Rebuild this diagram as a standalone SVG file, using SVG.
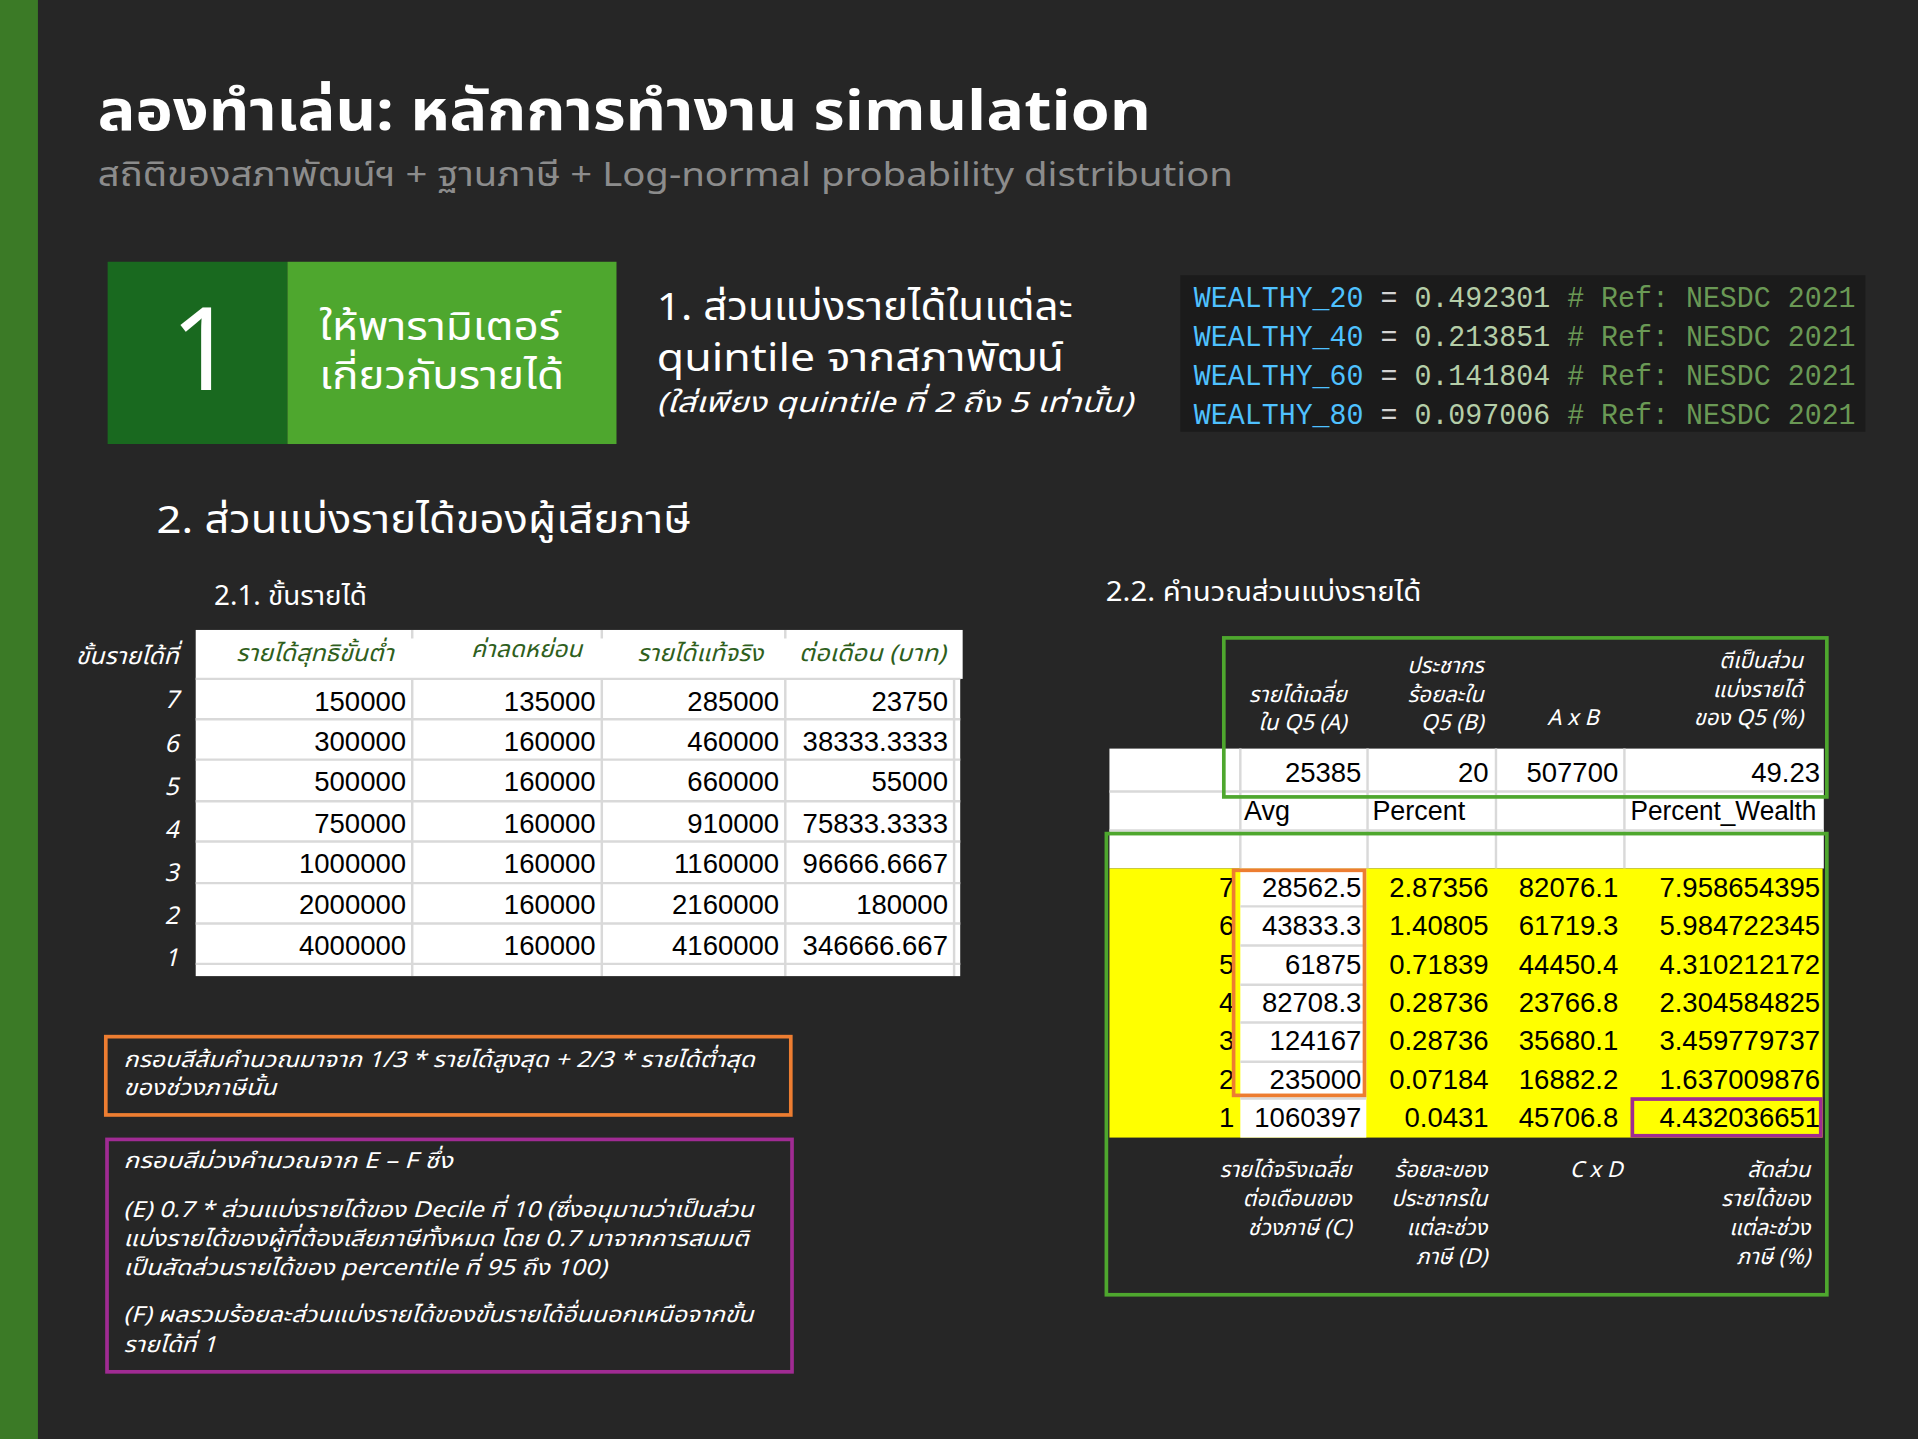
<svg xmlns="http://www.w3.org/2000/svg" width="1918" height="1439" viewBox="0 0 1918 1439">
<style>
.th{font-family:"Noto Sans Thai","Noto Sans Thai UI","Noto Sans","DejaVu Sans",sans-serif;}
.w{fill:#ffffff;}
.it{font-style:italic;}
.num{font-family:"Liberation Sans",Arial,sans-serif;font-size:22.5px;fill:#000;text-anchor:end;}
.lab{font-family:"Liberation Sans",Arial,sans-serif;font-size:22px;fill:#000;}
.code{font-family:"Liberation Mono","DejaVu Sans Mono",monospace;font-size:23.7px;}
.hd{font-size:19px;font-style:italic;fill:#2f5f1d;}
.hw{font-size:18px;font-style:italic;fill:#ffffff;text-anchor:end;}
.note{font-size:18px;font-style:italic;fill:#ffffff;}
.grid{stroke:#d9d9d9;stroke-width:2;fill:none;}
.kb{fill:#4fc1ff}.eq{fill:#d4d4d4}.nv{fill:#b5cea8}.cm{fill:#6a9955}
</style>
<rect x="0" y="0" width="1918" height="1439" fill="#262626"/>
<g transform="scale(1.2232)">
<rect x="0" y="0" width="31" height="1177" fill="#3b7a26"/>

<g id="title">
<text class="th w" x="80" y="106" font-size="46" font-weight="bold" textLength="861" lengthAdjust="spacingAndGlyphs">ลองทำเล่น: หลักการทำงาน simulation</text>
<text class="th" x="80" y="152" font-size="27" fill="#8c8c8c" textLength="928" lengthAdjust="spacingAndGlyphs">สถิติของสภาพัฒน์ฯ + ฐานภาษี + Log-normal probability distribution</text>
</g>

<g id="step1">
<rect x="88" y="214" width="147" height="149" fill="#19691f"/>
<rect x="235" y="214" width="269" height="149" fill="#4ea72e"/>
<text class="th w" x="166" y="319" font-size="94" text-anchor="middle">1</text>
<text class="th w" x="261" y="278" font-size="32" textLength="197" lengthAdjust="spacingAndGlyphs">ให้พารามิเตอร์</text>
<text class="th w" x="261" y="318" font-size="32" textLength="200" lengthAdjust="spacingAndGlyphs">เกี่ยวกับรายได้</text>
</g>

<g id="quintile-text">
<text class="th w" x="537" y="262" font-size="32" textLength="340" lengthAdjust="spacingAndGlyphs">1. ส่วนแบ่งรายได้ในแต่ละ</text>
<text class="th w" x="537" y="303" font-size="32" textLength="333" lengthAdjust="spacingAndGlyphs">quintile จากสภาพัฒน์</text>
<text class="th w it" x="537" y="337" font-size="23" textLength="389" lengthAdjust="spacingAndGlyphs">(ใส่เพียง quintile ที่ 2 ถึง 5 เท่านั้น)</text>
</g>

<g id="code">
<rect x="965" y="225" width="560" height="128" fill="#1b1b1b"/>
<text class="code" x="976" y="251" textLength="541" lengthAdjust="spacingAndGlyphs"><tspan class="kb">WEALTHY_20</tspan><tspan class="eq"> = </tspan><tspan class="nv">0.492301</tspan><tspan class="cm"> # Ref: NESDC 2021</tspan></text>
<text class="code" x="976" y="283" textLength="541" lengthAdjust="spacingAndGlyphs"><tspan class="kb">WEALTHY_40</tspan><tspan class="eq"> = </tspan><tspan class="nv">0.213851</tspan><tspan class="cm"> # Ref: NESDC 2021</tspan></text>
<text class="code" x="976" y="315" textLength="541" lengthAdjust="spacingAndGlyphs"><tspan class="kb">WEALTHY_60</tspan><tspan class="eq"> = </tspan><tspan class="nv">0.141804</tspan><tspan class="cm"> # Ref: NESDC 2021</tspan></text>
<text class="code" x="976" y="347" textLength="541" lengthAdjust="spacingAndGlyphs"><tspan class="kb">WEALTHY_80</tspan><tspan class="eq"> = </tspan><tspan class="nv">0.097006</tspan><tspan class="cm"> # Ref: NESDC 2021</tspan></text>
</g>

<g id="section2">
<text class="th w" x="128" y="436" font-size="32" textLength="437" lengthAdjust="spacingAndGlyphs">2. ส่วนแบ่งรายได้ของผู้เสียภาษี</text>
<text class="th w" x="175" y="495" font-size="22" textLength="125" lengthAdjust="spacingAndGlyphs">2.1. ขั้นรายได้</text>
<text class="th w" x="904" y="491" font-size="22" textLength="258" lengthAdjust="spacingAndGlyphs">2.2. คำนวณส่วนแบ่งรายได้</text>
</g>

<g id="table21">
<rect x="160" y="515" width="627" height="40" fill="#ffffff"/>
<rect x="160" y="555" width="625" height="243" fill="#ffffff"/>
<path class="grid" d="M160 555H785M160 588H785M160 621H785M160 655H785M160 688H785M160 722H785M160 755H785M160 788H785M337 555V798M492 555V798M642 555V798M780 555V798M337 515V522M492 515V522M642 515V522"/>
<text class="th hd" x="193" y="540" textLength="129" lengthAdjust="spacingAndGlyphs">รายได้สุทธิขั้นต่ำ</text>
<text class="th hd" x="385" y="537" textLength="91" lengthAdjust="spacingAndGlyphs">ค่าลดหย่อน</text>
<text class="th hd" x="521" y="540" textLength="103" lengthAdjust="spacingAndGlyphs">รายได้แท้จริง</text>
<text class="th hd" x="653" y="540" textLength="120" lengthAdjust="spacingAndGlyphs">ต่อเดือน (บาท)</text>
<text class="th w it" x="146" y="543" font-size="19" text-anchor="end" textLength="84" lengthAdjust="spacingAndGlyphs">ขั้นรายได้ที่</text>
<g class="th w it" font-size="20" text-anchor="end">
<text x="146" y="579">7</text><text x="146" y="615">6</text><text x="146" y="650">5</text><text x="146" y="685">4</text><text x="146" y="720">3</text><text x="146" y="755">2</text><text x="146" y="790">1</text>
</g>
<g class="num">
<text x="332" y="581">150000</text><text x="487" y="581">135000</text><text x="637" y="581">285000</text><text x="775" y="581">23750</text>
<text x="332" y="614">300000</text><text x="487" y="614">160000</text><text x="637" y="614">460000</text><text x="775" y="614">38333.3333</text>
<text x="332" y="647">500000</text><text x="487" y="647">160000</text><text x="637" y="647">660000</text><text x="775" y="647">55000</text>
<text x="332" y="681">750000</text><text x="487" y="681">160000</text><text x="637" y="681">910000</text><text x="775" y="681">75833.3333</text>
<text x="332" y="714">1000000</text><text x="487" y="714">160000</text><text x="637" y="714">1160000</text><text x="775" y="714">96666.6667</text>
<text x="332" y="747">2000000</text><text x="487" y="747">160000</text><text x="637" y="747">2160000</text><text x="775" y="747">180000</text>
<text x="332" y="781">4000000</text><text x="487" y="781">160000</text><text x="637" y="781">4160000</text><text x="775" y="781">346666.667</text>
</g>
</g>

<g id="table22">
<rect x="907" y="612" width="584" height="98" fill="#ffffff"/>
<path class="grid" d="M907 647H1491M907 679H1491M1014 612V710M1118 612V710M1223 612V710M1328 612V710"/>
<rect x="907" y="710" width="583" height="220" fill="#ffff00"/>
<rect x="1014" y="710" width="103" height="220" fill="#ffffff"/>
<path class="grid" d="M1014 741H1117M1014 773H1117M1014 805H1117M1014 836H1117M1014 868H1117M1014 898H1117"/>
<g class="th hw">
<text x="1101" y="574">รายได้เฉลี่ย</text><text x="1101" y="597">ใน Q5 (A)</text>
<text x="1213" y="550">ประชากร</text><text x="1213" y="574">ร้อยละใน</text><text x="1213" y="597">Q5 (B)</text>
<text x="1286" y="593" text-anchor="middle">A x B</text>
<text x="1474" y="546">ตีเป็นส่วน</text><text x="1474" y="570">แบ่งรายได้</text><text x="1474" y="593">ของ Q5 (%)</text>
</g>
<g class="num">
<text x="1113" y="639">25385</text><text x="1217" y="639">20</text><text x="1323" y="639">507700</text><text x="1488" y="639">49.23</text>
</g>
<g class="lab">
<text x="1017" y="670">Avg</text><text x="1122" y="670">Percent</text><text x="1333" y="670" textLength="152" lengthAdjust="spacingAndGlyphs">Percent_Wealth</text>
</g>
<g class="num">
<text x="1009" y="733">7</text><text x="1113" y="733">28562.5</text><text x="1217" y="733">2.87356</text><text x="1323" y="733">82076.1</text><text x="1488" y="733">7.958654395</text>
<text x="1009" y="764">6</text><text x="1113" y="764">43833.3</text><text x="1217" y="764">1.40805</text><text x="1323" y="764">61719.3</text><text x="1488" y="764">5.984722345</text>
<text x="1009" y="796">5</text><text x="1113" y="796">61875</text><text x="1217" y="796">0.71839</text><text x="1323" y="796">44450.4</text><text x="1488" y="796">4.310212172</text>
<text x="1009" y="827">4</text><text x="1113" y="827">82708.3</text><text x="1217" y="827">0.28736</text><text x="1323" y="827">23766.8</text><text x="1488" y="827">2.304584825</text>
<text x="1009" y="858">3</text><text x="1113" y="858">124167</text><text x="1217" y="858">0.28736</text><text x="1323" y="858">35680.1</text><text x="1488" y="858">3.459779737</text>
<text x="1009" y="890">2</text><text x="1113" y="890">235000</text><text x="1217" y="890">0.07184</text><text x="1323" y="890">16882.2</text><text x="1488" y="890">1.637009876</text>
<text x="1009" y="921">1</text><text x="1113" y="921">1060397</text><text x="1217" y="921">0.0431</text><text x="1323" y="921">45706.8</text><text x="1488" y="921">4.432036651</text>
</g>
<rect x="1008.5" y="711.5" width="107" height="184" fill="none" stroke="#ed7d31" stroke-width="3"/>
<rect x="1334.5" y="898.5" width="154" height="30" fill="none" stroke="#a02b93" stroke-width="3"/>
<g class="th hw">
<text x="1105" y="962">รายได้จริงเฉลี่ย</text><text x="1105" y="986">ต่อเดือนของ</text><text x="1105" y="1010">ช่วงภาษี (C)</text>
<text x="1216" y="962">ร้อยละของ</text><text x="1216" y="986">ประชากรใน</text><text x="1216" y="1010">แต่ละช่วง</text><text x="1216" y="1033">ภาษี (D)</text>
<text x="1305" y="962" text-anchor="middle">C x D</text>
<text x="1480" y="962">สัดส่วน</text><text x="1480" y="986">รายได้ของ</text><text x="1480" y="1010">แต่ละช่วง</text><text x="1480" y="1033">ภาษี (%)</text>
</g>
<rect x="1000.5" y="521.5" width="493" height="130" fill="none" stroke="#4ea72e" stroke-width="3"/>
<rect x="904.5" y="681.5" width="589" height="377" fill="none" stroke="#4ea72e" stroke-width="3"/>
</g>

<g id="note-orange">
<rect x="86.5" y="847.5" width="560" height="64" fill="none" stroke="#ed7d31" stroke-width="3"/>
<text class="th note" x="101" y="872" textLength="516" lengthAdjust="spacingAndGlyphs">กรอบสีส้มคำนวณมาจาก 1/3 * รายได้สูงสุด + 2/3 * รายได้ต่ำสุด</text>
<text class="th note" x="101" y="895" textLength="125" lengthAdjust="spacingAndGlyphs">ของช่วงภาษีนั้น</text>
</g>

<g id="note-purple">
<rect x="87.5" y="931.5" width="560" height="190" fill="none" stroke="#a02b93" stroke-width="3"/>
<text class="th note" x="101" y="955" textLength="269" lengthAdjust="spacingAndGlyphs">กรอบสีม่วงคำนวณจาก E – F ซึ่ง</text>
<text class="th note" x="101" y="995" textLength="515" lengthAdjust="spacingAndGlyphs">(E) 0.7 * ส่วนแบ่งรายได้ของ Decile ที่ 10 (ซึ่งอนุมานว่าเป็นส่วน</text>
<text class="th note" x="101" y="1019" textLength="511" lengthAdjust="spacingAndGlyphs">แบ่งรายได้ของผู้ที่ต้องเสียภาษีทั้งหมด โดย 0.7 มาจากการสมมติ</text>
<text class="th note" x="101" y="1042" textLength="395" lengthAdjust="spacingAndGlyphs">เป็นสัดส่วนรายได้ของ percentile ที่ 95 ถึง 100)</text>
<text class="th note" x="101" y="1081" textLength="515" lengthAdjust="spacingAndGlyphs">(F) ผลรวมร้อยละส่วนแบ่งรายได้ของขั้นรายได้อื่นนอกเหนือจากขั้น</text>
<text class="th note" x="101" y="1105" textLength="76" lengthAdjust="spacingAndGlyphs">รายได้ที่ 1</text>
</g>
</g>
</svg>
